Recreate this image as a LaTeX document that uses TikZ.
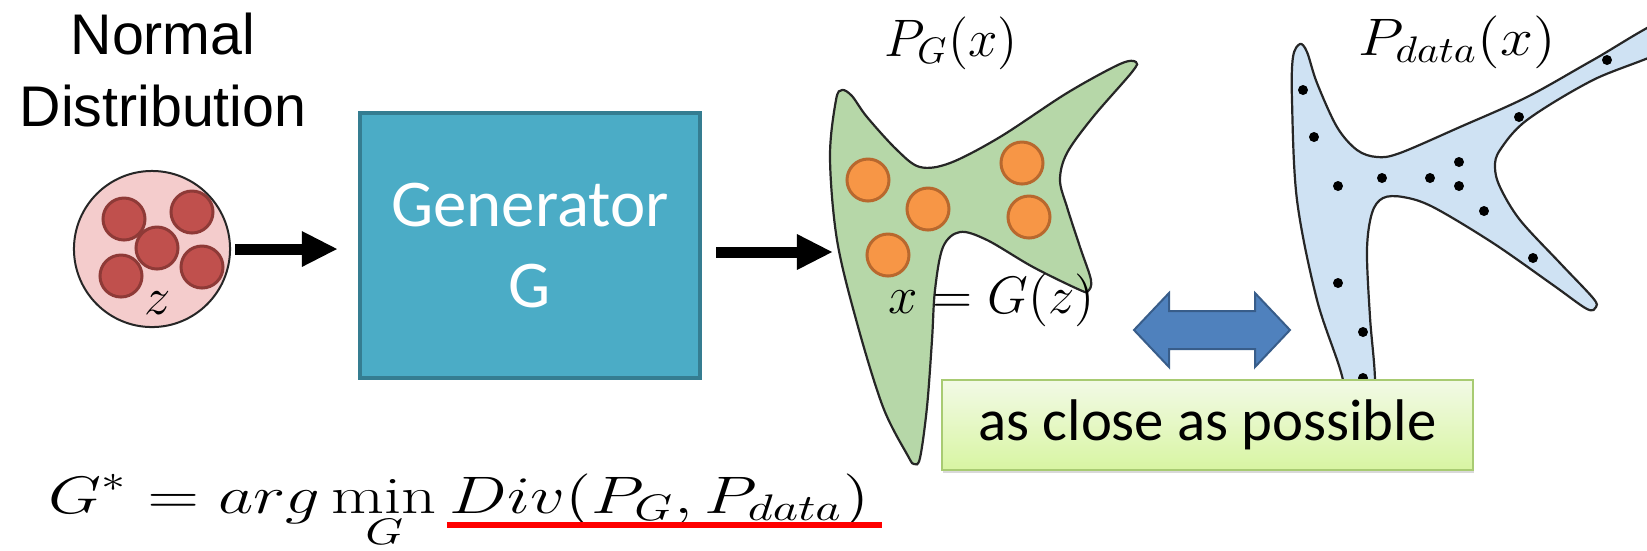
\documentclass[tikz,border=0pt]{standalone}
\usepackage{fix-cm}
\usepackage{fontspec}
\usepackage{graphicx}
\newfontfamily\calfont{Carlito}
\newfontfamily\arifont{Liberation Sans}
\usetikzlibrary{arrows.meta,shadows}
\definecolor{zpink}{HTML}{F4CCCC}
\definecolor{zdotfill}{HTML}{C0504D}
\definecolor{zdotedge}{HTML}{8E3A37}
\definecolor{genfill}{HTML}{4BACC6}
\definecolor{genedge}{HTML}{357D91}
\definecolor{pgfill}{HTML}{B6D7A8}
\definecolor{gdotfill}{HTML}{F79646}
\definecolor{gdotedge}{HTML}{B8682E}
\definecolor{pdfill}{HTML}{CFE2F3}
\definecolor{dblfill}{HTML}{4F81BD}
\definecolor{dbledge}{HTML}{385D8A}
\definecolor{closetop}{HTML}{F2FAE6}
\definecolor{closebot}{HTML}{D8F5A2}
\definecolor{closeedge}{HTML}{A8CB72}
\begin{document}
\begin{tikzpicture}[x=0.01cm, y=-0.01cm,
  lbl/.style={font=\arifont\fontsize{16.3}{20.2}\selectfont, align=center, inner sep=0pt},
  zcirc/.style={circle, draw=black!85, line width=0.02cm, fill=zpink,
                minimum size=1.56cm, inner sep=0pt},
  zdot/.style={draw=zdotedge, line width=0.03cm, fill=zdotfill},
  genbox/.style={draw=genedge, line width=0.04cm, fill=genfill, text=white,
                 minimum width=3.4cm, minimum height=2.65cm, align=center,
                 font=\calfont\fontsize{19}{23.3}\selectfont},
  bigarrow/.style={line width=0.11cm, -{Triangle[length=0.36cm, width=0.33cm]}},
  blob/.style={draw=black!85, line width=0.022cm},
  gdot/.style={draw=gdotedge, line width=0.03cm, fill=gdotfill},
  mlbl/.style={font=\fontsize{15}{18}\selectfont, inner sep=0pt},
  dblarrow/.style={draw=dbledge, line width=0.02cm, fill=dblfill},
  closebox/.style={draw=closeedge, line width=0.015cm, top color=closetop,
                   bottom color=closebot, minimum width=5.31cm, minimum height=0.9cm,
                   font=\calfont\fontsize{16.7}{20}\selectfont,
                   drop shadow={shadow xshift=0.01cm, shadow yshift=-0.03cm, opacity=0.3}},
  redline/.style={draw=red, line width=0.06cm},
]
\useasboundingbox (0,0) rectangle (1647,550);

\node[lbl] (normlbl) at (163,70) {Normal\\Distribution};
\node[zcirc] (zc) at (152,249) {};
\foreach \p in {(124,219),(192,212),(157,248),(121,276),(202,267)}
  \filldraw[zdot] \p circle[radius=21];
\node[mlbl] (zlbl) at (158,303) {$z$};

\node[genbox] (gen) at (530,245.5) {Generator\\G};
\draw[bigarrow, shorten <=0.04cm, shorten >=0.2cm] (zc.east) -- (zc.east -| gen.west);

\filldraw[blob, fill=pgfill] plot[smooth cycle, tension=0.55] coordinates {
  (836,100) (842,90) (852,96) (867,117) (897,150) (920,167) (950,163) (1000,137)
  (1067,93) (1120,64) (1136,62) (1132,72) (1093,117) (1067,153) (1060,180)
  (1067,207) (1080,247) (1091,280) (1088,291) (1080,290) (1033,267) (987,240)
  (960,232) (943,247) (935,290) (932,340) (927,407) (920,458) (914,464)
  (908,456) (883,407) (857,323) (837,240) (830,157)};
\foreach \p in {(868,180),(928,209),(1022,163),(1029,217),(888,255)}
  \filldraw[gdot] \p circle[radius=21];

\filldraw[blob, fill=pdfill] plot[smooth cycle, tension=0.55] coordinates {
  (1293,57) (1300,44) (1307,52) (1317,83) (1337,127) (1357,150) (1377,157)
  (1400,153) (1460,127) (1527,97) (1593,60) (1665,20) (1668,48) (1593,80)
  (1527,120) (1500,150) (1495,167) (1500,187) (1520,220) (1560,263) (1593,298)
  (1596,307) (1587,309) (1553,285) (1493,243) (1433,207) (1403,197) (1383,198)
  (1372,213) (1367,250) (1370,317) (1375,380) (1372,430) (1358,438) (1345,430)
  (1343,380) (1317,300) (1297,200) (1292,100)};
\foreach \p in {(1303,90),(1314,137),(1338,186),(1382,178),(1430,178),(1459,162),
                (1459,186),(1484,211),(1519,117),(1607,60),(1533,258),(1338,283),
                (1363,332),(1363,378)}
  \fill \p circle[radius=5];

\node[mlbl, anchor=base] (pglbl) at (951,56) {$P_{G}(x)$};
\node[mlbl, anchor=base] (xlbl) at (992,313) {$x=G(z)$};
\node[mlbl, anchor=base] (pdlbl) at (1457,55) {\scalebox{1.12}[1]{$P_{data}(x)$}};

\coordinate (pgin) at (833,252);
\draw[bigarrow, shorten <=0.14cm] (gen.east |- pgin) -- (pgin);

\coordinate (dblc) at (1212,330);
\filldraw[dblarrow] ([shift={(-78,0)}]dblc) -- ++(35,-37) -- ++(0,18) -- ++(86,0)
  -- ++(0,-18) -- ++(35,37) -- ++(-35,37) -- ++(0,-18) -- ++(-86,0) -- ++(0,18) -- cycle;

\node[closebox] (close) at (1207.5,425) {as close as possible};

\node[mlbl, anchor=base west] (argmin) at (48,513)
  {\scalebox{1.3}[1]{$\displaystyle G^{*}=arg\min_{G}\,$}};
\node[mlbl, anchor=base west] (divpg) at (argmin.base east)
  {\scalebox{1.3}[1]{$Div(P_{G},P_{data})$}};
\draw[redline] ([xshift=-0.02cm, yshift=-0.12cm]divpg.base west)
  -- ([xshift=0.12cm, yshift=-0.12cm]divpg.base east);
\end{tikzpicture}
\end{document}
